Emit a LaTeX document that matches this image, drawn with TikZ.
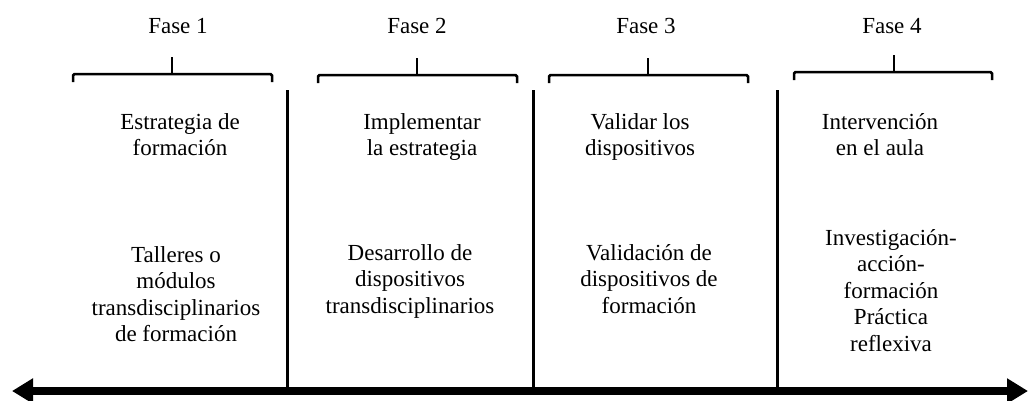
\documentclass[tikz,border=0pt]{standalone}
\usepackage{fontspec}
\setmainfont{Liberation Serif}
\usetikzlibrary{arrows.meta}
\tikzset{
        fase/.style={anchor=base, inner sep=0pt, font=\fontsize{23}{26.5}\selectfont},
        titulo/.style={anchor=north, align=center, inner sep=0pt, font=\fontsize{23}{26.5}\selectfont},
        detalle/.style={titulo},
        llave/.style={draw=black, line width=2.5pt, rounded corners=1.5pt},
        divisor/.style={draw=black, line width=3pt},
        eje/.style={draw=black, line width=8pt, {Triangle[length=21pt,width=24pt]}-{Triangle[length=21pt,width=24pt]}}
          }

\begin{document}
\begin{tikzpicture}[x=1pt, y=-1pt]
        \useasboundingbox (0,0) rectangle (1029,400);

        % fases
        \node[fase] (f1) at (178,33) {Fase 1};
        \node[fase] (f2) at (417,33) {Fase 2};
        \node[fase] (f3) at (646,33) {Fase 3};
        \node[fase] (f4) at (892,33) {Fase 4};

        % llaves
        \draw[llave] (73,82) -- (73,74) -- (272,74) -- (272,82);
        \draw[llave] (172,74) -- (172,57);
        \draw[llave] (318,83) -- (318,75) -- (517,75) -- (517,83);
        \draw[llave] (417,75) -- (417,58);
        \draw[llave] (549,83) -- (549,75) -- (748,75) -- (748,83);
        \draw[llave] (648,75) -- (648,58);
        \draw[llave] (794,80) -- (794,72) -- (992,72) -- (992,80);
        \draw[llave] (894,72) -- (894,55);

        % eje y divisores
        \coordinate (ejeA) at (12,391);
        \coordinate (ejeB) at (1028,391);
        \coordinate (d1a) at (287,90);
        \coordinate (d1b) at (287,391);
        \coordinate (d2a) at (533,90);
        \coordinate (d2b) at (533,391);
        \coordinate (d3a) at (777,90);
        \coordinate (d3b) at (777,391);
        \draw[divisor] (d1a) -- (d1b);
        \draw[divisor] (d2a) -- (d2b);
        \draw[divisor] (d3a) -- (d3b);
        \draw[eje] (ejeA) -- (ejeB);

        % titulos
        \node[titulo] (t1) at (180,113) {Estrategia de\\formación};
        \node[titulo] (t2) at (422,113) {Implementar\\la estrategia};
        \node[titulo] (t3) at (640,113) {Validar los\\dispositivos};
        \node[titulo] (t4) at (880,113) {Intervención\\en el aula};

        % detalles
        \node[detalle] (a1) at (176,246) {Talleres o\\módulos\\transdisciplinarios\\de formación};
        \node[detalle] (a2) at (410,244) {Desarrollo de\\dispositivos\\transdisciplinarios};
        \node[detalle] (a3) at (649,244) {Validación de\\dispositivos de\\formación};
        \node[detalle] (a4) at (891,229) {Investigación-\\acción-\\formación\\Práctica\\reflexiva};
\end{tikzpicture}
\end{document}
